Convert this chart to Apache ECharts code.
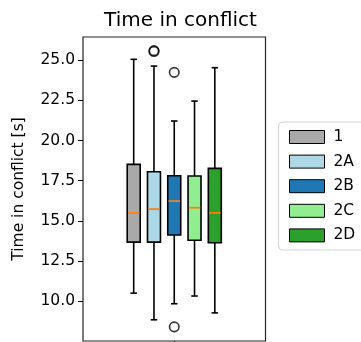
<!DOCTYPE html>
<html>
<head>
<meta charset="utf-8">
<script src="https://cdn.jsdelivr.net/npm/echarts@6/dist/echarts.min.js"></script>
<style>
  html, body { margin: 0; padding: 0; background: #fff; }
  #chart { width: 361px; height: 342px; }
</style>
</head>
<body>
<div id="chart"></div>
<script>
// Groups and their box statistics (seconds)
const groups = ['1', '2A', '2B', '2C', '2D'];
const colors = ['#a9a9a9', '#add8e6', '#1f77b4', '#90ee90', '#2ca02c'];
const whiskerLow = [10.5, 8.84, 9.84, 10.32, 9.27];
const q1 = [13.68, 13.68, 14.12, 13.79, 13.64];
const median = [15.49, 15.73, 16.23, 15.82, 15.5];
const q3 = [18.52, 18.06, 17.81, 17.79, 18.27];
const whiskerHigh = [25.06, 24.64, 21.22, 22.46, 24.54];
// Outlying observations per group
const outliers = [[], [25.55, 25.6], [24.25, 8.4], [], []];
const yTicks = [10, 12.5, 15, 17.5, 20, 22.5, 25];

const slotOffset = 2.5;   // boxes occupy slots 2..6 of a 9-slot axis
const FONT = 'DejaVu Sans';

function renderBox(params, api) {
  const x = api.value(0);
  const lo = api.coord([x, api.value(1)]);
  const b1 = api.coord([x, api.value(2)]);
  const md = api.coord([x, api.value(3)]);
  const b3 = api.coord([x, api.value(4)]);
  const hi = api.coord([x, api.value(5)]);
  const slot = api.size([1, 0])[0];
  const hw = slot * 0.32;
  const cw = hw * 0.5;
  const cx = lo[0];
  const line = { stroke: '#000', lineWidth: 1.6 };
  return {
    type: 'group',
    children: [
      { type: 'line', shape: { x1: cx, y1: lo[1], x2: cx, y2: b1[1] }, style: line },
      { type: 'line', shape: { x1: cx, y1: b3[1], x2: cx, y2: hi[1] }, style: line },
      { type: 'line', shape: { x1: cx - cw, y1: lo[1], x2: cx + cw, y2: lo[1] }, style: line },
      { type: 'line', shape: { x1: cx - cw, y1: hi[1], x2: cx + cw, y2: hi[1] }, style: line },
      { type: 'rect', shape: { x: cx - hw, y: b3[1], width: hw * 2, height: b1[1] - b3[1] },
        style: { fill: api.visual('color'), stroke: '#000', lineWidth: 1.6 } },
      { type: 'line', shape: { x1: cx - hw + 0.8, y1: md[1], x2: cx + hw - 0.8, y2: md[1] },
        style: { stroke: '#ff7f0e', lineWidth: 1.8 } }
    ]
  };
}

const series = groups.map((g, i) => ({
  name: g,
  type: 'custom',
  renderItem: renderBox,
  itemStyle: { color: colors[i] },
  encode: { x: 0, y: [1, 2, 3, 4, 5] },
  data: [[i + slotOffset, whiskerLow[i], q1[i], median[i], q3[i], whiskerHigh[i]]],
  z: 3
}));

const outlierData = [];
outliers.forEach((vals, i) => vals.forEach(v => outlierData.push([i + slotOffset, v])));
series.push({
  name: 'outliers',
  type: 'scatter',
  symbol: 'circle',
  symbolSize: 9.5,
  itemStyle: { color: 'rgba(0,0,0,0)', borderColor: '#000', borderWidth: 1.6 },
  data: outlierData,
  z: 4
});

const chart = echarts.init(document.getElementById('chart'), null, { renderer: 'canvas' });
chart.setOption({
  animation: false,
  backgroundColor: '#fff',
  title: {
    text: 'Time in conflict',
    left: 175.5,
    top: 6,
    textAlign: 'center',
    textStyle: { fontFamily: FONT, fontSize: 20, fontWeight: 'normal', color: '#000' }
  },
  graphic: [{
    type: 'rect',
    z: 0,
    shape: { x: 278.5, y: 122, width: 100, height: 128, r: 4 },
    style: { fill: '#fff', stroke: '#d4d4d4', lineWidth: 1 }
  }],
  legend: {
    data: groups,
    orient: 'vertical',
    left: 284,
    top: 124,
    itemWidth: 35,
    itemHeight: 13,
    itemGap: 8.6,
    icon: 'rect',
    z: 5,
    itemStyle: { borderColor: '#000', borderWidth: 1 },
    textStyle: { fontFamily: FONT, fontSize: 15.5, color: '#000', padding: [0, 0, 0, 4] }
  },
  grid: {
    left: 83, right: 95.5, top: 37, bottom: 1,
    show: true, borderColor: '#222', borderWidth: 1.2, backgroundColor: 'transparent'
  },
  xAxis: {
    type: 'value',
    min: 0,
    max: 9,
    splitLine: { show: false },
    axisLine: { show: false },
    axisLabel: { show: false },
    axisTick: { show: true, length: 5, customValues: [4.5], lineStyle: { color: '#000' } }
  },
  yAxis: {
    type: 'value',
    min: 7.52,
    max: 26.45,
    name: 'Time in conflict [s]',
    nameLocation: 'middle',
    nameGap: 56,
    nameTextStyle: { fontFamily: FONT, fontSize: 15.5, color: '#000' },
    splitLine: { show: false },
    axisLine: { show: false },
    axisTick: { show: true, length: 5, customValues: yTicks, lineStyle: { color: '#000' } },
    axisLabel: {
      customValues: yTicks,
      margin: 8,
      fontFamily: FONT,
      fontSize: 15.5,
      color: '#000',
      formatter: v => v.toFixed(1)
    }
  },
  series: series
});
</script>
</body>
</html>
